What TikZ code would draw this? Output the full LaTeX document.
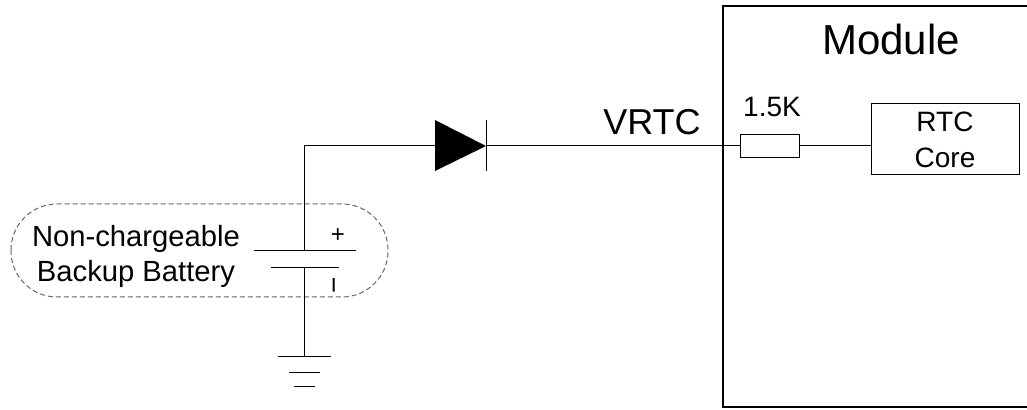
\documentclass[tikz,border=0pt]{standalone}
\usepackage{fontspec}
\setmainfont{Liberation Sans}
\tikzset{
  wire/.style={line width=0.5pt},
  part/.style={draw, line width=0.5pt, inner sep=0pt},
  lbl/.style={anchor=base, inner sep=0pt}
}
\begin{document}
\begin{tikzpicture}[x=0.5pt, y=-0.5pt]
  \useasboundingbox (0,0) rectangle (1027,410);
  % module
  \draw[line width=0.8pt] (723,6) rectangle (1060,407);
  \node[lbl, font=\fontsize{21}{25}\selectfont] (module) at (891,55) {Module};
  \node[part, minimum width=74pt, minimum height=35.5pt, align=center,
    font=\fontsize{14}{18}\selectfont] (rtc) at (945,139.5) {RTC\\Core};
  \node[part, minimum width=29.5pt, minimum height=11.5pt] (res) at (770,146) {};
  \node[lbl, font=\fontsize{14}{17}\selectfont] (r1) at (772,117) {1.5K};
  \node[lbl, font=\fontsize{18}{22}\selectfont] (vrtc) at (652,135) {VRTC};
  % diode
  \coordinate (da) at (435,146);
  \coordinate (dk) at (486,146);
  \fill (435,120) -- (435,171) -- (dk) -- cycle;
  \draw[wire] (486,120) -- (486,171);
  % battery and ground
  \coordinate (corner) at (304,146);
  \coordinate (bplus) at (304,251);
  \coordinate (bminus) at (304,268);
  \coordinate (gnd) at (304,357);
  \draw[wire] (254,251) -- (356,251);
  \draw[wire] (271,268) -- (339,268);
  \foreach \y/\w in {357/26.5, 373/15.5, 387/10.5} {
    \draw[wire] ({304-\w},\y) -- ({304+\w},\y);
  }
  \node[font=\fontsize{12}{12}\selectfont] (pos) at (338,236) {+};
  \node[rotate=90, font=\fontsize{14}{14}\selectfont] (neg) at (338,285) {−};
  \draw[black!60, dash pattern=on 2.5pt off 1.5pt, line width=0.5pt, rounded corners=23pt]
    (11,204) rectangle (388,297);
  \node[align=center, inner sep=0pt, font=\fontsize{14.6}{17.5}\selectfont]
    (batt) at (136,256) {Non-chargeable\\Backup Battery};
  % wires
  \draw[wire] (bplus) -- (corner) -- (da);
  \draw[wire] (dk) -- (res.west);
  \draw[wire] (res.east) -- (res.east -| rtc.west);
  \draw[wire] (bminus) -- (gnd);
\end{tikzpicture}
\end{document}
